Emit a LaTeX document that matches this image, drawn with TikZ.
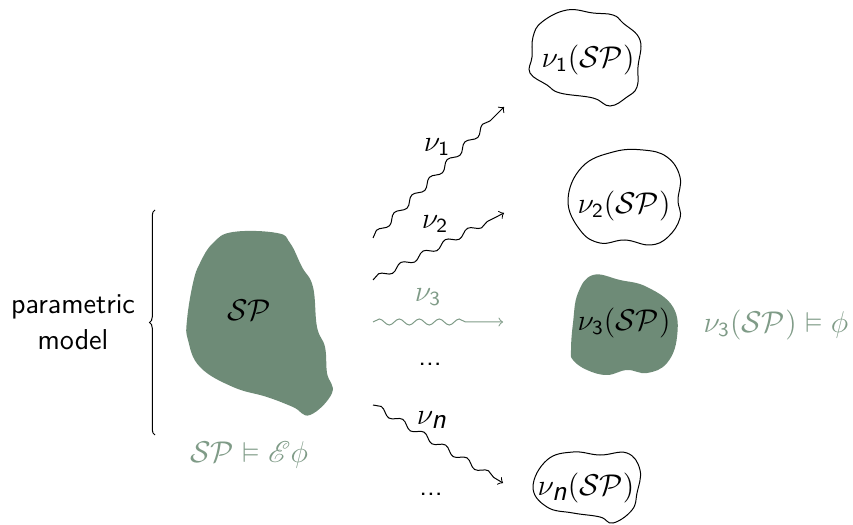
\documentclass[tikz,border=0pt]{standalone}
\usepackage{amssymb}
\usepackage{mathrsfs}
\usetikzlibrary{decorations.pathmorphing,decorations.pathreplacing}
\renewcommand{\familydefault}{\sfdefault}
\definecolor{sage}{HTML}{6E8B77}
\definecolor{sagetext}{HTML}{7F9B87}
\newcommand{\SPx}{\mathcal{S}\mathcal{P}}
\begin{document}
\begin{tikzpicture}[x=0.4pt,y=-0.4pt,
  lbl/.style={inner sep=0pt,font=\fontsize{11.5}{13.5}\selectfont},
  blob/.style={draw=black,line width=0.4pt},
  fblob/.style={fill=sage,draw=none},
  wave/.style={->,decorate,decoration={snake,amplitude=1.2pt,segment length=10pt,post length=4pt}},
]
\useasboundingbox (0,0) rectangle (853,525);

% left side
\node[lbl,align=center] (pm) at (73,322) {parametric\\[1pt]model};
\coordinate (bb) at (155,435);
\coordinate (bt) at (155,210);
\draw[decorate,decoration={brace,amplitude=2.2pt}] (bb) -- (bt);

\fill[fblob] plot[smooth cycle,tension=0.7] coordinates {(233,232) (277,233) (290,243) (302,267) (313,287) (317,327) (325,347) (327,373) (332,393) (310,415) (293,407) (267,397) (233,387) (200,367) (188,340) (187,320) (193,283) (200,263) (213,243)};
\node[lbl] (sp) at (249,310) {$\SPx$};
\node[lbl,text=sagetext] (spe) at (249,455) {$\SPx \vDash \mathscr{E}\phi$};

% blobs on right
\draw[blob] plot[smooth cycle,tension=0.7] coordinates {(542,22) (567,10) (593,13) (613,15) (623,23) (640,40) (638,67) (637,87) (627,97) (610,106) (593,98) (560,93) (547,85) (530,73) (532,57) (533,37)};
\node[lbl] (r1) at (588,60) {$\nu_{\mathsf{1}}(\SPx)$};

\draw[blob] plot[smooth cycle,tension=0.7] coordinates {(568,200) (582,167) (613,152) (643,150) (667,157) (680,177) (678,200) (680,218) (668,237) (650,245) (625,240) (600,243) (580,230)};
\node[lbl] (r2) at (624,206) {$\nu_{\mathsf{2}}(\SPx)$};

\fill[fblob] plot[smooth cycle,tension=0.7] coordinates {(571,350) (573,323) (578,293) (593,275) (620,280) (647,287) (673,307) (677,337) (667,363) (647,373) (627,370) (607,375) (587,370) (573,360)};
\node[lbl] (r3) at (624,323) {$\nu_{\mathsf{3}}(\SPx)$};
\node[lbl,text=sagetext] (r3m) at (776,325) {$\nu_{\mathsf{3}}(\SPx) \vDash \phi$};

\draw[blob] plot[smooth cycle,tension=0.7] coordinates {(533,487) (547,460) (573,452) (600,455) (627,453) (640,470) (637,493) (632,510) (613,523) (600,517) (573,513) (547,507)};
\node[lbl] (rn) at (586,488) {$\nu_{\textsf{\itshape n}}(\SPx)$};

% arrows
\coordinate (a1s) at (373,238); \coordinate (a1e) at (504,107);
\coordinate (a2s) at (373,280); \coordinate (a2e) at (504,213);
\coordinate (a3s) at (373,322); \coordinate (a3e) at (503,322);
\coordinate (a4s) at (373,405); \coordinate (a4e) at (503,483);
\draw[wave] (a1s) -- (a1e);
\draw[wave] (a2s) -- (a2e);
\draw[wave,draw=sagetext,decoration={segment length=8pt,post length=12pt}] (a3s) -- (a3e);
\draw[wave] (a4s) -- (a4e);

\node[lbl] (l1) at (437,147) {$\nu_{\mathsf{1}}$};
\node[lbl] (l2) at (435,224) {$\nu_{\mathsf{2}}$};
\node[lbl,text=sagetext] (l3) at (428,297) {$\nu_{\mathsf{3}}$};
\node[lbl] (d1) at (430,364) {...};
\node[lbl] (ln) at (432,420) {$\nu_{\textsf{\itshape n}}$};
\node[lbl] (d2) at (431,494) {...};
\end{tikzpicture}
\end{document}
